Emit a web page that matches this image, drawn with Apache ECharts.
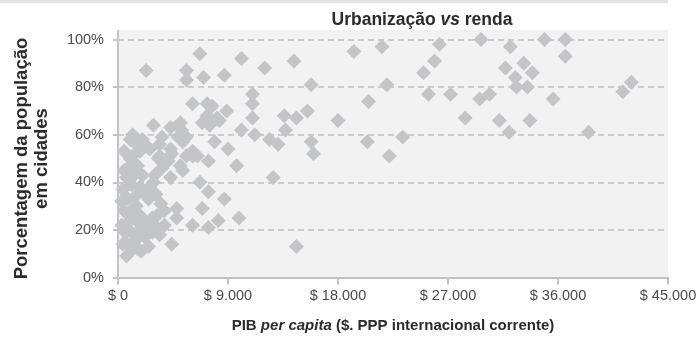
<!DOCTYPE html>
<html>
<head>
<meta charset="utf-8">
<script src="https://cdn.jsdelivr.net/npm/echarts@6/dist/echarts.min.js"></script>
<style>
  html, body { margin: 0; padding: 0; background: #ffffff; }
  #chart { width: 700px; height: 337px; }
</style>
</head>
<body>
<div id="chart"></div>
<script>
// GDP per capita (current international $, PPP) and urban population share (%) by country
const gdpPerCapita = [
  36600, 34900, 29700, 32100, 36600, 31700, 33200, 33900, 32500, 32600,
  33500, 30400, 29600, 35600, 42000, 41300, 31200, 33700, 32000, 38500,
  26300, 25900, 25000, 21600, 19300, 14400, 15800, 22000, 25400, 27200,
  20500, 15500, 13600, 14600, 13700, 18000, 28400, 15800, 16000, 20400,
  23300, 22200, 13100, 14600, 12000, 11000, 11000, 11000, 11200, 12400,
  12700,
  2300, 6700, 5600, 5600, 7000, 8700, 10100, 6100, 7300, 7700,
  8900, 6900, 7300, 8100, 2900, 4300, 5100, 1200, 3600, 4900,
  5600, 10100, 7900, 9000, 2000, 1200, 3400, 4400, 7500, 8300,
  5200, 5300, 6100, 9700, 6700, 7400, 8700, 6900, 4800, 4800,
  6100, 7400, 8200, 9900, 4400, 2500, 3500, 3800, 4300, 5100,
  6100, 7400, 5600, 6500, 5300,
  700, 1200, 800, 1600, 2200, 600, 1100, 1800, 2800, 3400,
  800, 1500, 2200, 3000, 3800, 500, 1100, 1800, 2800, 800,
  1400, 2500, 3100, 400, 1100, 1800, 2600, 700, 1300, 2000,
  800, 1600, 1000, 1800, 3000, 3600, 3300, 4100, 4300, 3400,
  2600, 1000, 2200,
  300, 300, 500, 1300, 1900, 1500, 2100, 1200, 500, 1500,
  2900, 1700, 900, 2600, 3200, 400
];
const urbanShare = [
  100, 100, 100, 97, 93, 88, 90, 86, 84, 80,
  80, 77, 75, 75, 82, 78, 66, 66, 61, 61,
  98, 91, 86, 97, 95, 91, 81, 81, 77, 77,
  74, 70, 68, 67, 62, 66, 67, 57, 52, 57,
  59, 51, 56, 13, 88, 77, 73, 67, 60, 58,
  42,
  87, 94, 87, 83, 84, 85, 92, 73, 73, 72,
  70, 65, 68, 67, 64, 63, 65, 60, 59, 59,
  59, 62, 57, 54, 58, 51, 51, 52, 64, 66,
  62, 57, 53, 47, 40, 36, 33, 29, 29, 25,
  22, 21, 24, 25, 14, 13, 31, 28, 42, 47,
  51, 49, 51, 51, 45,
  9, 12, 14, 12, 17, 19, 19, 20, 19, 18,
  23, 24, 23, 22, 22, 28, 28, 26, 25, 33,
  34, 33, 35, 37, 39, 38, 38, 42, 43, 43,
  46, 47, 50, 53, 43, 46, 50, 49, 54, 56,
  54, 58, 56,
  22, 32, 45, 15, 11, 30, 36, 47, 53, 56,
  40, 17, 26, 21, 26, 14
];

// Axis ticks
const xTicks = [0, 9000, 18000, 27000, 36000, 45000];
const yTicks = [0, 20, 40, 60, 80, 100];

const points = gdpPerCapita.map((g, i) => [g, urbanShare[i]]);

const fontFamily = '"Liberation Sans", Arial, sans-serif';
const axisGray = '#c3c3c5';

function fmtMoney(v) {
  return '$ ' + String(v).replace(/\B(?=(\d{3})+(?!\d))/g, '.');
}

const chart = echarts.init(document.getElementById('chart'), null, { renderer: 'canvas' });

chart.setOption({
  animation: false,
  backgroundColor: '#ffffff',
  textStyle: { fontFamily: fontFamily },
  title: {
    text: '{a|Urbanização }{b|vs}{a| renda}',
    left: 417,
    top: 6,
    textAlign: 'center',
    textStyle: {
      rich: {
        a: { fontFamily: fontFamily, fontSize: 17.5, fontWeight: 'bold', color: '#2b2b2b' },
        b: { fontFamily: fontFamily, fontSize: 17.5, fontWeight: 'bold', fontStyle: 'italic', color: '#2b2b2b' }
      }
    }
  },
  graphic: [
    // thin rule along the top edge
    { type: 'rect', z: -20, shape: { x: 0, y: 0, width: 668, height: 3 }, style: { fill: '#e2e2e2' } },
    // plot background, extending a little above the 100% line
    { type: 'rect', z: -10, shape: { x: 118, y: 30, width: 550, height: 248 }, style: { fill: '#f2f2f2' } },
    // vertical axis continuation above the top gridline
    { type: 'line', z: 1, shape: { x1: 118, y1: 30, x2: 118, y2: 40 }, style: { stroke: axisGray, lineWidth: 2 } }
  ],
  grid: {
    left: 118,
    right: 32,
    top: 39.5,
    bottom: 59.5,
    containLabel: false,
    outerBoundsMode: 'none'
  },
  xAxis: {
    type: 'value',
    min: xTicks[0],
    max: xTicks[xTicks.length - 1],
    interval: xTicks[1] - xTicks[0],
    name: '{a|PIB }{b|per capita}{a| ($. PPP internacional corrente)}',
    nameLocation: 'middle',
    nameGap: 41,
    nameTextStyle: {
      rich: {
        a: { fontFamily: fontFamily, fontSize: 15, fontWeight: 'bold', color: '#2b2b2b' },
        b: { fontFamily: fontFamily, fontSize: 15, fontWeight: 'bold', fontStyle: 'italic', color: '#2b2b2b' }
      }
    },
    axisLine: { show: true, onZero: false, lineStyle: { color: axisGray, width: 2 } },
    axisTick: { show: true, length: 7, lineStyle: { color: axisGray, width: 2 } },
    axisLabel: {
      formatter: fmtMoney,
      color: '#4a4a4a',
      fontSize: 14.5,
      fontFamily: fontFamily,
      margin: 11
    },
    splitLine: { show: false }
  },
  yAxis: {
    type: 'value',
    min: yTicks[0],
    max: yTicks[yTicks.length - 1],
    interval: yTicks[1] - yTicks[0],
    name: 'Porcentagem da população\nem cidades',
    nameLocation: 'middle',
    nameRotate: 90,
    nameGap: 66,
    nameTextStyle: {
      fontFamily: fontFamily,
      fontSize: 18.5,
      fontWeight: 'bold',
      color: '#2b2b2b',
      lineHeight: 20
    },
    axisLine: { show: true, lineStyle: { color: axisGray, width: 2 } },
    axisTick: { show: true, length: 5, lineStyle: { color: axisGray, width: 2 } },
    axisLabel: {
      formatter: v => v + '%',
      color: '#4a4a4a',
      fontSize: 14.5,
      fontFamily: fontFamily,
      margin: 14
    },
    splitLine: {
      show: true,
      lineStyle: { color: '#c0c0c2', width: 1.5, type: [6, 4] }
    }
  },
  series: [{
    type: 'scatter',
    data: points,
    symbol: 'diamond',
    symbolSize: 15,
    itemStyle: { color: '#c4c5c8', opacity: 1 },
    emphasis: { disabled: true }
  }]
});
</script>
</body>
</html>
